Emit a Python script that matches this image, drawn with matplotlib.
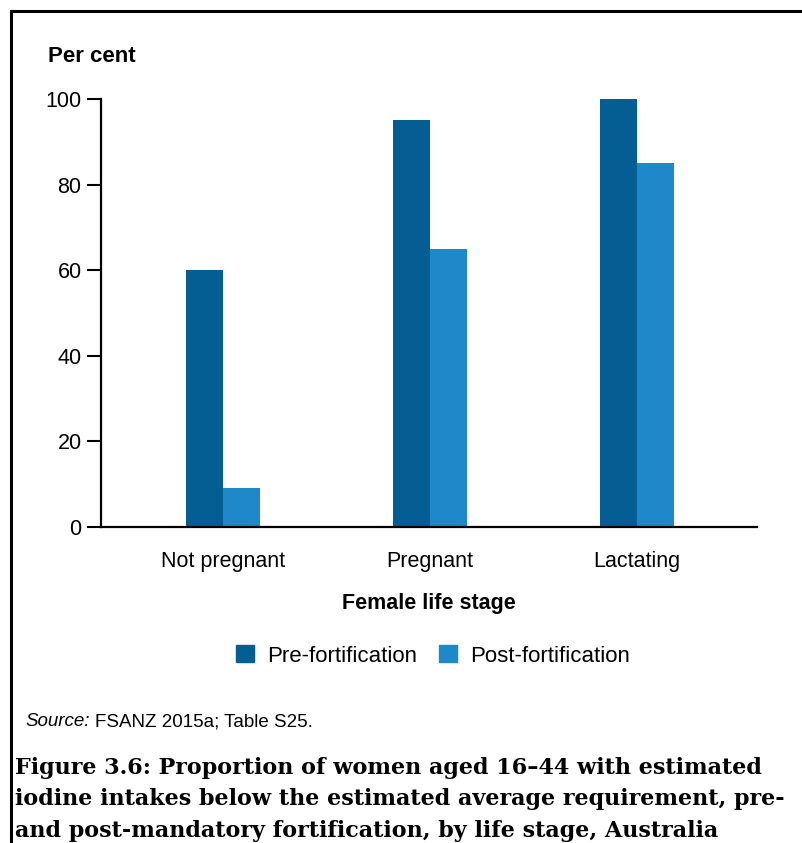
import matplotlib
matplotlib.use("Agg")
import matplotlib.pyplot as plt
from matplotlib.patches import Rectangle
from matplotlib.lines import Line2D
import numpy as np

categories = ["Not pregnant", "Pregnant", "Lactating"]
pre_fortification = [60, 95, 100]
post_fortification = [9, 65, 85]
series_names = ["Pre-fortification", "Post-fortification"]
yticks = [0, 20, 40, 60, 80, 100]

c_pre = "#045E94"
c_post = "#1E88C8"

plt.rcParams['font.family'] = ['Liberation Sans', 'DejaVu Sans']

fig = plt.figure(figsize=(8.03, 8.43), dpi=100)
ax = fig.add_axes([101/803, 1-527/843, (757-101)/803, (527-99)/843])

x = np.arange(len(categories))
w = 0.179
ax.bar(x - w/2, pre_fortification, w, color=c_pre, label=series_names[0], zorder=2)
ax.bar(x + w/2, post_fortification, w, color=c_post, label=series_names[1], zorder=2)

ax.set_xlim(-0.589, 2.58)
ax.set_ylim(0, 100)
ax.set_yticks(yticks)
ax.set_xticks(x)
ax.set_xticklabels(categories, fontsize=15.5)
ax.tick_params(axis='x', length=0, pad=17)
ax.tick_params(axis='y', length=10, width=1.5, labelsize=15.5, pad=4)
for s in ['top', 'right']:
    ax.spines[s].set_visible(False)
for s in ['left', 'bottom']:
    ax.spines[s].set_linewidth(1.6)
    ax.spines[s].set_color('black')

fig.text(48/803, 1-56/843, "Per cent", fontsize=16, fontweight='bold', va='center', ha='left')
fig.text(429/803, 1-603/843, "Female life stage", fontsize=15.5, fontweight='bold', va='center', ha='center')

handles = [Rectangle((0, 0), 1, 1, color=c_pre), Rectangle((0, 0), 1, 1, color=c_post)]
fig.legend(handles, series_names, loc='center', bbox_to_anchor=(433/803, 1-656/843),
           ncol=2, frameon=False, fontsize=16, handlelength=0.8, handleheight=0.8,
           handletextpad=0.6, columnspacing=1.0)

fig.text(25/803, 1-722/843, "Source:", fontsize=13.5, style='italic', va='center', ha='left')
fig.text(95/803, 1-722/843, "FSANZ 2015a; Table S25.", fontsize=13.5, va='center', ha='left')

caption = ("Figure 3.6: Proportion of women aged 16\u201344 with estimated\n"
           "iodine intakes below the estimated average requirement, pre-\n"
           "and post-mandatory fortification, by life stage, Australia")
fig.text(15/803, 1-757/843, caption, fontsize=16, fontweight='bold',
         family=['DejaVu Serif'], va='top', ha='left', linespacing=1.55)

# Border frame
fig.add_artist(Line2D([11/803, 11/803], [0, 1-11/843], transform=fig.transFigure, color='black', lw=2.2))
fig.add_artist(Line2D([11/803, 1], [1-11/843, 1-11/843], transform=fig.transFigure, color='black', lw=2.2))

fig.savefig("out.png", dpi=100)
